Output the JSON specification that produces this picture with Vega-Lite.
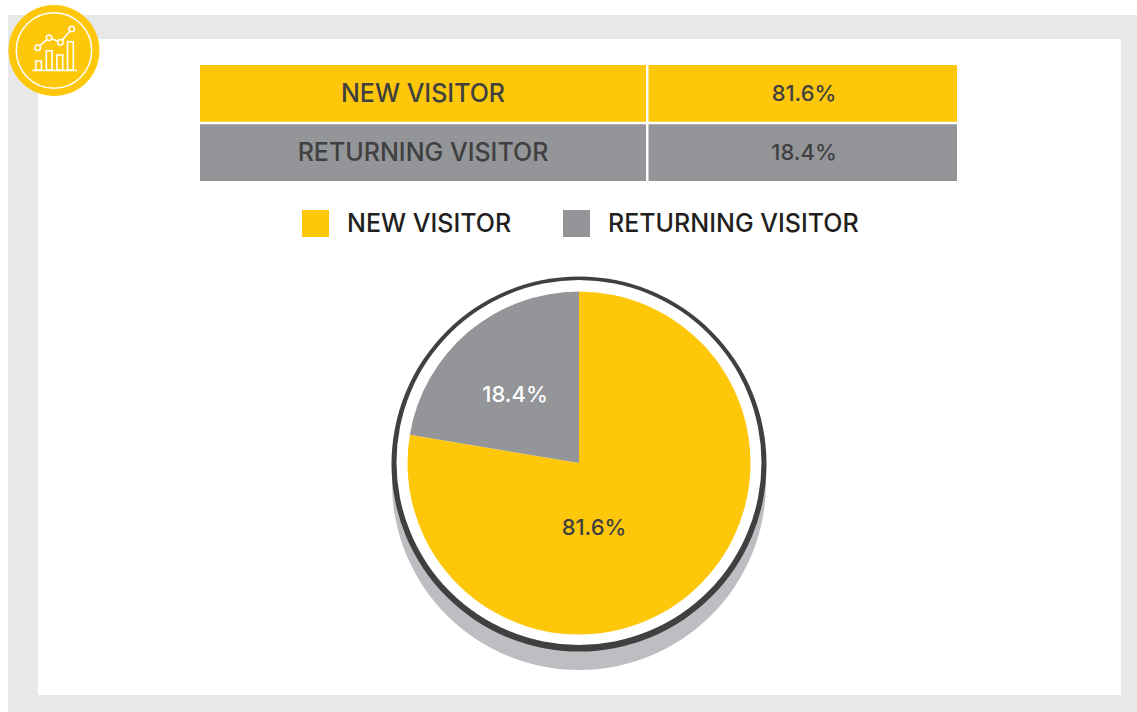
{
  "$schema": "https://vega.github.io/schema/vega-lite/v6.json",
  "width": 1137,
  "height": 712,
  "padding": 0,
  "autosize": {"type": "none"},
  "background": "white",
  "config": {"view": {"stroke": null}, "axis": {"disable": true}, "font": "Inter"},
  "datasets": {
    "visits": [
      {"visitor": "NEW VISITOR", "share": 0.816},
      {"visitor": "RETURNING VISITOR", "share": 0.184}
    ],
    "badgeLine": [
      {"step": 1, "level": 22.3},
      {"step": 2, "level": 32.3},
      {"step": 3, "level": 27.7},
      {"step": 4, "level": 41}
    ],
    "badgeBars": [
      {"step": "1", "level": 9},
      {"step": "2", "level": 19.3},
      {"step": "3", "level": 15},
      {"step": "4", "level": 28.3}
    ]
  },
  "data": {"name": "visits"},
  "resolve": {"scale": {"x": "independent", "y": "independent"}},
  "layer": [
    {
      "data": {"values": [{"part": "frame"}]},
      "mark": {"type": "rect", "fill": "#e7e8e8"},
      "encoding": {
        "x": {"field": "part", "type": "nominal", "axis": null, "scale": {"range": [8, 1137]}},
        "y": {"field": "part", "type": "nominal", "axis": null, "scale": {"range": [15, 712]}}
      }
    },
    {
      "data": {"values": [{"part": "page"}]},
      "mark": {"type": "rect", "fill": "#ffffff"},
      "encoding": {
        "x": {"field": "part", "type": "nominal", "axis": null, "scale": {"range": [38, 1121]}},
        "y": {"field": "part", "type": "nominal", "axis": null, "scale": {"range": [39, 695]}}
      }
    },
    {
      "data": {"values": [{"part": "badge"}]},
      "mark": {"type": "arc", "fill": "#fec70a", "outerRadius": 45.5, "theta": 0, "theta2": 6.2832},
      "encoding": {
        "x": {"field": "part", "type": "nominal", "axis": null, "scale": {"type": "point", "range": [9, 99]}},
        "y": {"field": "part", "type": "nominal", "axis": null, "scale": {"type": "point", "range": [5, 96]}}
      }
    },
    {
      "data": {"values": [{"part": "badge"}]},
      "mark": {"type": "arc", "fill": null, "stroke": "#ffffff", "strokeWidth": 1.5, "outerRadius": 37.7, "theta": 0, "theta2": 6.2832},
      "encoding": {
        "x": {"field": "part", "type": "nominal", "axis": null, "scale": {"type": "point", "range": [9, 99]}},
        "y": {"field": "part", "type": "nominal", "axis": null, "scale": {"type": "point", "range": [5, 96]}}
      }
    },
    {
      "data": {"name": "badgeBars"},
      "mark": {"type": "bar", "fill": "#fec70a", "stroke": "#ffffff", "strokeWidth": 1.6},
      "encoding": {
        "x": {"field": "step", "type": "nominal", "axis": null, "scale": {"type": "band", "range": [35.7, 73.3], "paddingInner": 0.46, "paddingOuter": 0}},
        "y": {"field": "level", "type": "quantitative", "axis": null, "scale": {"domain": [0, 41], "range": [70, 29]}}
      }
    },
    {
      "data": {"values": [{"part": "baseline"}]},
      "mark": {"type": "rule", "stroke": "#ffffff", "strokeWidth": 1.6},
      "encoding": {
        "x": {"datum": 0, "type": "quantitative", "axis": null, "scale": {"domain": [0, 1], "range": [32.3, 77]}},
        "x2": {"datum": 1},
        "y": {"datum": 0, "type": "quantitative", "axis": null, "scale": {"domain": [0, 41], "range": [70.5, 29.5]}}
      }
    },
    {
      "data": {"name": "badgeLine"},
      "mark": {"type": "line", "stroke": "#ffffff", "strokeWidth": 1.6, "point": {"filled": true, "fill": "#fec70a", "stroke": "#ffffff", "strokeWidth": 1.6, "size": 30}},
      "encoding": {
        "x": {"field": "step", "type": "quantitative", "axis": null, "scale": {"domain": [1, 4], "range": [37.7, 71.7]}},
        "y": {"field": "level", "type": "quantitative", "axis": null, "scale": {"domain": [0, 41], "range": [70, 29]}}
      }
    },
    {
      "mark": {"type": "rect"},
      "encoding": {
        "x": {"datum": "Visitor", "type": "nominal", "axis": null, "scale": {"range": [200, 646]}},
        "y": {"field": "visitor", "type": "nominal", "axis": null, "scale": {"domain": ["NEW VISITOR", "RETURNING VISITOR"], "range": [65, 181], "paddingInner": 0.04, "paddingOuter": 0}},
        "color": {
          "field": "visitor",
          "type": "nominal",
          "scale": {"domain": ["NEW VISITOR", "RETURNING VISITOR"], "range": ["#fec70a", "#939598"]},
          "legend": {
            "title": null,
            "orient": "none",
            "legendX": 302,
            "legendY": 210,
            "direction": "horizontal",
            "symbolType": "square",
            "symbolSize": 729,
            "symbolStrokeWidth": 0,
            "symbolOpacity": 1,
            "labelFont": "Inter",
            "labelFontWeight": 500,
            "labelFontSize": 25,
            "labelColor": "#231f20",
            "labelOffset": 18,
            "labelLimit": 400,
            "columnPadding": 51,
            "encoding": {"labels": {"update": {"dy": {"value": 2}}}}
          }
        }
      }
    },
    {
      "mark": {"type": "rect"},
      "encoding": {
        "x": {"datum": "Share", "type": "nominal", "axis": null, "scale": {"range": [648.5, 957]}},
        "y": {"field": "visitor", "type": "nominal", "axis": null, "scale": {"domain": ["NEW VISITOR", "RETURNING VISITOR"], "range": [65, 181], "paddingInner": 0.04, "paddingOuter": 0}},
        "color": {"field": "visitor", "type": "nominal"}
      }
    },
    {
      "mark": {"type": "text", "font": "Inter", "fontSize": 25, "fontWeight": 500, "fill": "#404041", "align": "center", "baseline": "middle"},
      "encoding": {
        "x": {"datum": "Visitor", "type": "nominal", "axis": null, "scale": {"type": "point", "range": [200, 646]}},
        "y": {"field": "visitor", "type": "nominal", "axis": null, "scale": {"type": "point", "domain": ["NEW VISITOR", "RETURNING VISITOR"], "range": [64, 182], "padding": 0.5}},
        "text": {"field": "visitor", "type": "nominal"}
      }
    },
    {
      "mark": {"type": "text", "font": "Inter", "fontSize": 22, "fontWeight": 500, "fill": "#404041", "align": "center", "baseline": "middle"},
      "encoding": {
        "x": {"datum": "Share", "type": "nominal", "axis": null, "scale": {"type": "point", "range": [650, 958]}},
        "y": {"field": "visitor", "type": "nominal", "axis": null, "scale": {"type": "point", "domain": ["NEW VISITOR", "RETURNING VISITOR"], "range": [64, 182], "padding": 0.5}},
        "text": {"field": "share", "type": "quantitative", "format": ".1%"}
      }
    },
    {
      "data": {"values": [{"part": "shadow"}]},
      "mark": {"type": "arc", "fill": "#bcbec1", "outerRadius": 187, "theta": 0, "theta2": 6.2832},
      "encoding": {
        "x": {"field": "part", "type": "nominal", "axis": null, "scale": {"type": "point", "range": [392, 766]}},
        "y": {"field": "part", "type": "nominal", "axis": null, "scale": {"type": "point", "range": [296, 670]}}
      }
    },
    {
      "data": {"values": [{"part": "ring"}]},
      "mark": {"type": "arc", "fill": "#404041", "outerRadius": 187.5, "theta": 0, "theta2": 6.2832},
      "encoding": {
        "x": {"field": "part", "type": "nominal", "axis": null, "scale": {"type": "point", "range": [392, 766]}},
        "y": {"field": "part", "type": "nominal", "axis": null, "scale": {"type": "point", "range": [277, 651]}}
      }
    },
    {
      "data": {"values": [{"part": "gap"}]},
      "mark": {"type": "arc", "fill": "#ffffff", "outerRadius": 182.5, "theta": 0, "theta2": 6.2832},
      "encoding": {
        "x": {"field": "part", "type": "nominal", "axis": null, "scale": {"type": "point", "range": [392, 766]}},
        "y": {"field": "part", "type": "nominal", "axis": null, "scale": {"type": "point", "range": [275.5, 649.5]}}
      }
    },
    {
      "mark": {"type": "arc", "outerRadius": 171.5},
      "encoding": {
        "x": {"datum": "pie", "type": "nominal", "axis": null, "scale": {"type": "point", "range": [392, 766]}},
        "y": {"datum": "pie", "type": "nominal", "axis": null, "scale": {"type": "point", "range": [276, 650]}},
        "theta": {"field": "share", "type": "quantitative", "stack": true, "scale": {"domain": [0, 0.816, 1], "range": [0, 4.878, 6.2832]}},
        "order": {"field": "share", "type": "quantitative", "sort": "descending"},
        "color": {"field": "visitor", "type": "nominal"}
      }
    },
    {
      "mark": {"type": "text", "font": "Inter", "fontSize": 22, "fontWeight": 500, "align": "center", "baseline": "middle"},
      "encoding": {
        "x": {"field": "visitor", "type": "nominal", "axis": null, "scale": {"type": "point", "domain": ["NEW VISITOR", "RETURNING VISITOR"], "range": [594, 515], "padding": 0}},
        "y": {"field": "visitor", "type": "nominal", "axis": null, "scale": {"type": "point", "domain": ["NEW VISITOR", "RETURNING VISITOR"], "range": [528, 395], "padding": 0}},
        "text": {"field": "share", "type": "quantitative", "format": ".1%"},
        "fill": {"field": "visitor", "type": "nominal", "legend": null, "scale": {"domain": ["NEW VISITOR", "RETURNING VISITOR"], "range": ["#404041", "#ffffff"]}}
      }
    }
  ]
}
